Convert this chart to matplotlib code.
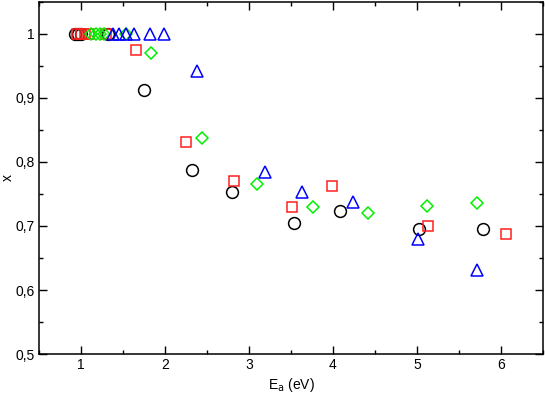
import matplotlib
matplotlib.use("Agg")
import matplotlib.pyplot as plt
from matplotlib.ticker import MultipleLocator, FuncFormatter

plt.rcParams['font.family'] = ['Liberation Sans', 'DejaVu Sans']

# Black circles
circ_x = [0.93, 0.97, 1.00, 1.32, 1.75, 2.32, 2.80, 3.53, 4.08, 5.02, 5.79]
circ_y = [1.00, 1.00, 1.00, 1.00, 0.912, 0.788, 0.753, 0.705, 0.724, 0.696, 0.695]
# Red squares
sq_x = [0.95, 1.00, 1.05, 1.10, 1.30, 1.66, 2.25, 2.82, 3.51, 3.99, 5.13, 6.06]
sq_y = [1.00, 1.00, 1.00, 1.00, 1.00, 0.975, 0.831, 0.771, 0.729, 0.762, 0.700, 0.688]
# Green diamonds
dia_x = [1.12, 1.18, 1.23, 1.27, 1.54, 1.83, 2.44, 3.10, 3.76, 4.42, 5.12, 5.71]
dia_y = [1.00, 1.00, 1.00, 1.00, 1.00, 0.970, 0.838, 0.765, 0.729, 0.721, 0.731, 0.736]
# Blue triangles
tri_x = [1.38, 1.45, 1.53, 1.63, 1.82, 1.99, 2.38, 3.19, 3.63, 4.24, 5.01, 5.71]
tri_y = [1.00, 1.00, 1.00, 1.00, 1.00, 1.00, 0.942, 0.785, 0.753, 0.737, 0.679, 0.631]

fig = plt.figure(figsize=(5.45, 3.94), dpi=100)
ax = fig.add_axes([0.0716, 0.1015, 0.9247, 0.8935])

mew = 1.1
ax.plot(circ_x, circ_y, 'o', ms=8.5, mfc='none', mec='black', mew=mew, ls='none')
ax.plot(sq_x, sq_y, 's', ms=7.5, mfc='none', mec='#ff2020', mew=mew, ls='none')
ax.plot(dia_x, dia_y, 'D', ms=6.5, mfc='none', mec='#00ee00', mew=mew, ls='none')
ax.plot(tri_x, tri_y, '^', ms=8.5, mfc='none', mec='#0000ff', mew=mew, ls='none')

ax.set_xlim(0.5, 6.5)
ax.set_ylim(0.5, 1.05)
ax.xaxis.set_major_locator(MultipleLocator(1))
ax.xaxis.set_minor_locator(MultipleLocator(0.5))
ax.yaxis.set_major_locator(MultipleLocator(0.1))
ax.yaxis.set_minor_locator(MultipleLocator(0.05))

fmt = FuncFormatter(lambda v, p: ('%g' % round(v, 3)).replace('.', ','))
ax.xaxis.set_major_formatter(fmt)
ax.yaxis.set_major_formatter(fmt)

ax.tick_params(which='both', direction='in', top=True, right=True, labelsize=10, width=1)
ax.tick_params(which='major', length=6, pad=3)
ax.tick_params(which='minor', length=3)
for s in ax.spines.values():
    s.set_linewidth(1.1)

ax.set_xlabel(r'E$_\mathrm{a}$ (eV)', fontsize=10, labelpad=3)
ax.set_ylabel('x', fontsize=10, va='center')
ax.yaxis.set_label_coords(-0.062, 0.5)

fig.savefig('out.png', dpi=100)
